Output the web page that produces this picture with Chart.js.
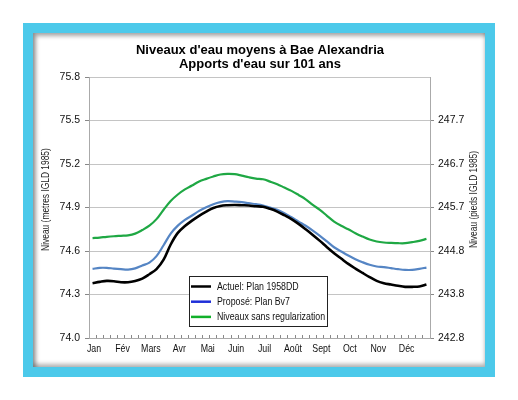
<!DOCTYPE html>
<html lang="fr">
<head>
<meta charset="utf-8">
<title>Niveaux d'eau moyens à Bae Alexandria</title>
<script src="https://cdn.jsdelivr.net/npm/chart.js@4.4.1/dist/chart.umd.min.js"></script>
<style>
    html, body { margin: 0; padding: 0; background: #fff; }
    body { width: 518px; height: 400px; position: relative; overflow: hidden; }
    .frame { position: absolute; left: 23px; top: 23px; width: 472px; height: 354px; background: #4cc9ea; }
    .panel {
        position: absolute; left: 10px; top: 10px; right: 10px; bottom: 10px; background: #fff;
        box-shadow: inset 3px 3px 4px rgba(0, 0, 0, 0.35), inset 0 -3px 4px rgba(0, 0, 0, 0.3);
    }
    .chart-wrap { position: absolute; left: 0; top: 0; width: 518px; height: 400px; }
</style>
</head>
<body>
<div class="frame"><div class="panel"></div></div>
<div class="chart-wrap"><canvas id="levelChart"></canvas></div>

<script>
// Mean water levels, quarter-monthly (4 periods per month), metres IGLD 1985
const months = ['Jan', 'Fév', 'Mars', 'Avr', 'Mai', 'Juin', 'Juil', 'Août', 'Sept', 'Oct', 'Nov', 'Déc'];

const actuel1958DD = [
    74.378, 74.387, 74.394, 74.392, 74.385, 74.385, 74.394, 74.410,
    74.440, 74.475, 74.540, 74.645, 74.725, 74.772, 74.810, 74.843,
    74.872, 74.897, 74.911, 74.916, 74.918, 74.916, 74.914, 74.909,
    74.905, 74.891, 74.872, 74.847, 74.820, 74.787, 74.750, 74.711,
    74.670, 74.626, 74.585, 74.548, 74.511, 74.479, 74.449, 74.420,
    74.394, 74.378, 74.369, 74.360, 74.353, 74.353, 74.355, 74.369
];

const proposeBv7 = [
    74.477, 74.484, 74.484, 74.479, 74.475, 74.472, 74.480, 74.500,
    74.520, 74.565, 74.640, 74.720, 74.775, 74.815, 74.845, 74.877,
    74.902, 74.923, 74.937, 74.944, 74.941, 74.937, 74.930, 74.923,
    74.914, 74.900, 74.884, 74.861, 74.833, 74.803, 74.774, 74.741,
    74.705, 74.666, 74.626, 74.597, 74.569, 74.544, 74.523, 74.505,
    74.493, 74.489, 74.482, 74.475, 74.470, 74.470, 74.477, 74.486
];

const sansRegularisation = [
    74.689, 74.693, 74.698, 74.702, 74.705, 74.708, 74.720, 74.745,
    74.775, 74.820, 74.885, 74.945, 74.990, 75.025, 75.052, 75.080,
    75.098, 75.114, 75.128, 75.132, 75.130, 75.120, 75.109, 75.100,
    75.095, 75.079, 75.061, 75.038, 75.015, 74.987, 74.957, 74.918,
    74.884, 74.843, 74.803, 74.774, 74.750, 74.723, 74.700, 74.679,
    74.666, 74.659, 74.656, 74.654, 74.654, 74.661, 74.670, 74.684
];

const metreTicks = [74.0, 74.3, 74.6, 74.9, 75.2, 75.5, 75.8];
const piedTickLabels = ['242.8', '243.8', '244.8', '245.7', '246.7', '247.7'];

const periodLabels = months.flatMap(m => [1, 2, 3, 4].map(q => m + ' ' + q));

const SANS = '"Liberation Sans", Arial, sans-serif';
const NARROW_SCALE = 0.8;   // the original uses a condensed face for small text

// Write text squeezed horizontally along its own direction
function drawNarrowText(ctx, text, x, y, rotation) {
    ctx.save();
    ctx.translate(x, y);
    if (rotation) ctx.rotate(rotation);
    ctx.scale(NARROW_SCALE, 1);
    ctx.fillText(text, 0, 0);
    ctx.restore();
}

// Axis titles and month labels are drawn by hand in the condensed style
const axisText = {
    id: 'axisText',
    afterDraw(chart, args, opts) {
        const { ctx, chartArea, scales } = chart;
        const midY = (chartArea.top + chartArea.bottom) / 2 + opts.shiftY;
        ctx.save();
        ctx.fillStyle = '#222';
        ctx.textAlign = 'center';
        ctx.textBaseline = 'middle';
        ctx.font = '10.5px ' + SANS;
        drawNarrowText(ctx, opts.left, scales.y.left + opts.inset, midY, -Math.PI / 2);
        drawNarrowText(ctx, opts.right, scales.y2.right - opts.inset, midY, -Math.PI / 2);

        ctx.fillStyle = '#111';
        ctx.font = '11px ' + SANS;
        months.forEach((m, i) => {
            const x = scales.x.getPixelForTick(i * 4) + opts.monthShiftX;
            drawNarrowText(ctx, m, x, chartArea.bottom + opts.monthGap, 0);
        });
        ctx.restore();
    }
};

// Boxed legend sitting inside the plot area
const legendBox = {
    id: 'legendBox',
    afterDraw(chart, args, opts) {
        const { ctx, chartArea } = chart;
        const x = Math.round(chartArea.left + opts.left);
        const y = Math.round(chartArea.top + opts.top);
        ctx.save();
        ctx.fillStyle = '#fff';
        ctx.fillRect(x, y, opts.width, opts.height);
        ctx.strokeStyle = '#222';
        ctx.lineWidth = 1;
        ctx.strokeRect(x + 0.5, y + 0.5, opts.width, opts.height);
        ctx.font = '11px ' + SANS;
        ctx.textBaseline = 'middle';
        chart.data.datasets.forEach((ds, i) => {
            const rowY = y + 10.5 + i * 15.2;
            ctx.strokeStyle = opts.colors[i];
            ctx.lineWidth = 2.5;
            ctx.beginPath();
            ctx.moveTo(x + 2, rowY);
            ctx.lineTo(x + 22, rowY);
            ctx.stroke();
            ctx.fillStyle = '#111';
            drawNarrowText(ctx, ds.label, x + 28, rowY, 0);
        });
        ctx.restore();
    }
};

const ctx = document.getElementById('levelChart').getContext('2d');

new Chart(ctx, {
    type: 'line',
    data: {
        labels: periodLabels,
        datasets: [
            {
                label: 'Actuel: Plan 1958DD',
                data: actuel1958DD,
                borderColor: '#000000',
                borderWidth: 2.6
            },
            {
                label: 'Proposé: Plan Bv7',
                data: proposeBv7,
                borderColor: '#5585c4',
                borderWidth: 2.2
            },
            {
                label: 'Niveaux sans regularization',
                data: sansRegularisation,
                borderColor: '#1fa844',
                borderWidth: 2.2
            }
        ]
    },
    options: {
        responsive: true,
        maintainAspectRatio: false,
        animation: false,
        elements: {
            point: { radius: 0, hitRadius: 4 },
            line: { tension: 0.35, fill: false }
        },
        layout: {
            padding: { left: 36, right: 34, top: 0, bottom: 0 }
        },
        plugins: {
            legend: { display: false },
            tooltip: { enabled: false },
            title: {
                display: true,
                text: ["Niveaux d'eau moyens à Bae Alexandria", "Apports d'eau sur 101 ans"],
                color: '#000',
                font: { family: SANS, size: 13, weight: 'bold', lineHeight: 1.08 },
                padding: { top: 43, bottom: 6 }
            },
            axisText: {
                left: 'Niveau (metres IGLD 1985)',
                right: 'Niveau (pieds IGLD 1985)',
                inset: 10,
                shiftY: -8,
                monthGap: 10.5,
                monthShiftX: 1.5
            },
            legendBox: {
                left: 100,
                top: 199,
                width: 138,
                height: 50,
                colors: ['#000000', '#1f2fd8', '#12b02a']
            }
        },
        scales: {
            x: {
                type: 'category',
                offset: true,
                grid: {
                    display: true,
                    drawOnChartArea: false,
                    offset: true,
                    tickLength: -3,
                    tickColor: '#888'
                },
                border: { color: '#aaa' },
                ticks: { display: false, autoSkip: false, maxRotation: 0 },
                afterFit: scale => { scale.height = 62; }
            },
            y: {
                position: 'left',
                min: 74.0,
                max: 75.8,
                afterBuildTicks: scale => { scale.ticks = metreTicks.map(v => ({ value: v })); },
                grid: { color: '#c4c4c4', tickLength: 4, tickColor: '#888' },
                border: { color: '#aaa' },
                ticks: {
                    padding: 5,
                    color: '#111',
                    font: { family: SANS, size: 10.5 },
                    callback: value => value.toFixed(1)
                },
                afterFit: scale => { scale.width = 53; }
            },
            y2: {
                position: 'right',
                min: 74.0,
                max: 75.8,
                afterBuildTicks: scale => {
                    scale.ticks = metreTicks.slice(0, piedTickLabels.length).map(v => ({ value: v }));
                },
                grid: { drawOnChartArea: false, tickLength: 4, tickColor: '#888' },
                border: { color: '#aaa' },
                ticks: {
                    padding: 4,
                    color: '#111',
                    font: { family: SANS, size: 10.5 },
                    callback: (value, index) => piedTickLabels[index]
                },
                afterFit: scale => { scale.width = 54; }
            }
        }
    },
    plugins: [axisText, legendBox]
});
</script>
</body>
</html>
